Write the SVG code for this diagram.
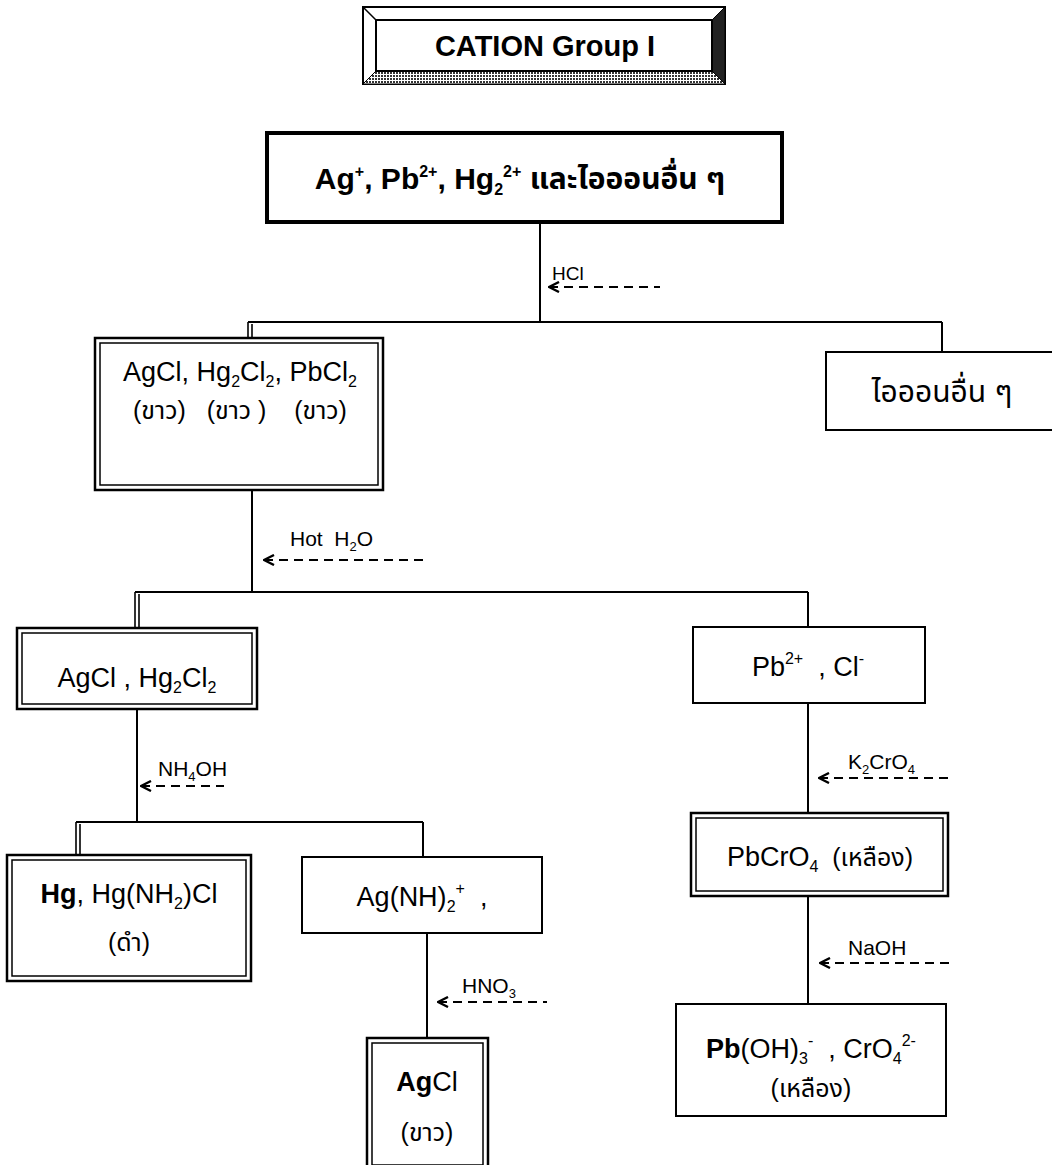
<svg xmlns="http://www.w3.org/2000/svg" width="1052" height="1165" viewBox="0 0 1052 1165">
  <defs>
    <style>
      text { font-family: "Liberation Sans", Arial, "Noto Sans Thai", "Noto Sans", "DejaVu Sans", sans-serif; fill: #000; white-space: pre; }
      .t { font-size: 27px; }
      .th { font-size: 25px; }
      .big { font-size: 30px; font-weight: bold; }
      .lbl { font-size: 21px; }
      .b { font-weight: bold; }
      .s { font-size: 16px; }
      .ls { font-size: 13px; }
      .box { fill: #fff; stroke: #000; stroke-width: 2; }
      .outer { fill: #fff; stroke: #000; stroke-width: 2.5; }
      .inner { fill: none; stroke: #000; stroke-width: 1.5; }
      .ln { stroke: #000; stroke-width: 2; fill: none; }
      .dl { stroke: #000; stroke-width: 1.6; fill: none; }
      .dash { stroke: #000; stroke-width: 2; stroke-dasharray: 9 6; fill: none; }
    </style>
    <marker id="head" viewBox="0 0 12 12" refX="11" refY="6" markerWidth="12" markerHeight="12" markerUnits="userSpaceOnUse" orient="auto-start-reverse">
      <path d="M1,1 L11,6 L1,11" fill="none" stroke="#000" stroke-width="2.4"/>
    </marker>
    <pattern id="dither" width="3" height="3" patternUnits="userSpaceOnUse">
      <rect width="3" height="3" fill="#fff"/>
      <rect width="2" height="2" fill="#333"/>
    </pattern>
  </defs>

  <rect width="1052" height="1165" fill="#fff"/>

  <!-- connectors -->
  <g id="connectors">
    <!-- main split -->
    <line class="ln" x1="540" y1="222" x2="540" y2="322"/>
    <line class="ln" x1="248" y1="322" x2="942" y2="322"/>
    <line class="dl" x1="248" y1="322" x2="248" y2="338"/>
    <line class="dl" x1="252" y1="324" x2="252" y2="338"/>
    <line class="ln" x1="942" y1="322" x2="942" y2="352"/>
    <!-- hot water split -->
    <line class="ln" x1="252" y1="490" x2="252" y2="592"/>
    <line class="ln" x1="135" y1="592" x2="808" y2="592"/>
    <line class="dl" x1="135" y1="592" x2="135" y2="628"/>
    <line class="dl" x1="139" y1="594" x2="139" y2="628"/>
    <line class="ln" x1="808" y1="592" x2="808" y2="627"/>
    <!-- ammonia split -->
    <line class="ln" x1="137" y1="709" x2="137" y2="822"/>
    <line class="ln" x1="76" y1="822" x2="423" y2="822"/>
    <line class="dl" x1="76" y1="822" x2="76" y2="855"/>
    <line class="dl" x1="80" y1="824" x2="80" y2="855"/>
    <line class="ln" x1="423" y1="822" x2="423" y2="857"/>
    <line class="ln" x1="427" y1="933" x2="427" y2="1038"/>
    <!-- lead branch -->
    <line class="ln" x1="808" y1="703" x2="808" y2="813"/>
    <line class="ln" x1="808" y1="896" x2="808" y2="1004"/>

    <!-- reagent arrows -->
    <line class="dash" x1="549" y1="287" x2="660" y2="287" marker-start="url(#head)"/>
    <line class="dash" x1="264" y1="560" x2="428" y2="560" marker-start="url(#head)"/>
    <line class="dash" x1="141" y1="786" x2="224" y2="786" marker-start="url(#head)"/>
    <line class="dash" x1="438" y1="1002" x2="547" y2="1002" marker-start="url(#head)"/>
    <line class="dash" x1="819" y1="778" x2="950" y2="778" marker-start="url(#head)"/>
    <line class="dash" x1="820" y1="963" x2="950" y2="963" marker-start="url(#head)"/>

    <text class="lbl" x="552" y="280" style="font-size:19px">HCl</text>
    <text class="lbl" x="290" y="546">Hot  H<tspan class="ls" dy="5">2</tspan><tspan dy="-5">O</tspan></text>
    <text class="lbl" x="158" y="776">NH<tspan class="ls" dy="5">4</tspan><tspan dy="-5">OH</tspan></text>
    <text class="lbl" x="462" y="993">HNO<tspan class="ls" dy="5">3</tspan></text>
    <text class="lbl" x="848" y="769">K<tspan class="ls" dy="5">2</tspan><tspan dy="-5">CrO</tspan><tspan class="ls" dy="5">4</tspan></text>
    <text class="lbl" x="848" y="955">NaOH</text>
  </g>

  <!-- title plate with bevelled frame -->
  <g id="title">
    <rect x="363" y="7" width="362" height="77" fill="#fff" stroke="#000" stroke-width="2"/>
    <polygon points="363,84 725,84 712,71 376,71" fill="url(#dither)" stroke="#000" stroke-width="1"/>
    <polygon points="725,7 725,84 712,71 712,20" fill="#222" stroke="#000" stroke-width="1"/>
    <line x1="363" y1="7" x2="376" y2="20" stroke="#000" stroke-width="1.5"/>
    <rect x="376" y="20" width="336" height="51" fill="#fff" stroke="#000" stroke-width="2"/>
    <text class="big" x="545" y="56" text-anchor="middle" style="font-size:29px">CATION Group I</text>
  </g>

  <g id="n-start">
    <rect x="267" y="133" width="515" height="89" fill="#fff" stroke="#000" stroke-width="4"/>
    <text class="big" x="520" y="189" text-anchor="middle">Ag<tspan class="s" dy="-12">+</tspan><tspan dy="12">, Pb</tspan><tspan class="s" dy="-12">2+</tspan><tspan dy="12">, Hg</tspan><tspan class="s" dy="6">2</tspan><tspan class="s" dy="-18">2+</tspan><tspan dy="12"> และไอออนอื่น ๆ</tspan></text>
  </g>

  <g id="n-chlorides">
    <rect class="outer" x="95" y="338" width="288" height="152"/>
    <rect class="inner" x="100" y="343" width="278" height="142"/>
    <text class="t" x="240" y="381" text-anchor="middle">AgCl, Hg<tspan class="s" dy="6">2</tspan><tspan dy="-6">Cl</tspan><tspan class="s" dy="6">2</tspan><tspan dy="-6">, PbCl</tspan><tspan class="s" dy="6">2</tspan></text>
    <text class="th" x="240" y="419" text-anchor="middle">(ขาว)   (ขาว )    (ขาว)</text>
  </g>

  <g id="n-other-ions">
    <rect class="box" x="826" y="352" width="240" height="78"/>
    <text class="t" x="942" y="402" text-anchor="middle" style="font-size:30px">ไอออนอื่น ๆ</text>
  </g>

  <g id="n-agcl-hg2cl2">
    <rect class="outer" x="17" y="628" width="240" height="81"/>
    <rect class="inner" x="22" y="633" width="230" height="71"/>
    <text class="t" x="137" y="687" text-anchor="middle">AgCl , Hg<tspan class="s" dy="6">2</tspan><tspan dy="-6">Cl</tspan><tspan class="s" dy="6">2</tspan></text>
  </g>

  <g id="n-pb-cl">
    <rect class="box" x="693" y="627" width="232" height="76"/>
    <text class="t" x="808" y="676" text-anchor="middle">Pb<tspan class="s" dy="-12">2+</tspan><tspan dy="12">  , Cl</tspan><tspan class="s" dy="-12">-</tspan></text>
  </g>

  <g id="n-hg">
    <rect class="outer" x="7" y="855" width="244" height="126"/>
    <rect class="inner" x="12" y="860" width="234" height="116"/>
    <text class="t" x="129" y="903" text-anchor="middle"><tspan class="b">Hg</tspan>, Hg(NH<tspan class="s" dy="6">2</tspan><tspan dy="-6">)Cl</tspan></text>
    <text class="th" x="129" y="951" text-anchor="middle">(ดำ)</text>
  </g>

  <g id="n-ag-ammine">
    <rect class="box" x="302" y="857" width="240" height="76"/>
    <text class="t" x="422" y="906" text-anchor="middle">Ag(NH)<tspan class="s" dy="6">2</tspan><tspan class="s" dy="-18">+</tspan><tspan dy="12">  ,</tspan></text>
  </g>

  <g id="n-agcl">
    <rect class="outer" x="367" y="1038" width="121" height="132"/>
    <rect class="inner" x="372" y="1043" width="111" height="122"/>
    <text class="t" x="427" y="1091" text-anchor="middle"><tspan class="b">Ag</tspan>Cl</text>
    <text class="th" x="427" y="1141" text-anchor="middle">(ขาว)</text>
  </g>

  <g id="n-pbcro4">
    <rect class="outer" x="691" y="813" width="257" height="83"/>
    <rect class="inner" x="696" y="818" width="247" height="73"/>
    <text class="t" x="820" y="866" text-anchor="middle">PbCrO<tspan class="s" dy="6">4</tspan><tspan class="th" dy="-6">  (เหลือง)</tspan></text>
  </g>

  <g id="n-plumbite">
    <rect class="box" x="676" y="1004" width="270" height="112"/>
    <text class="t" x="811" y="1058" text-anchor="middle"><tspan class="b">Pb</tspan>(OH)<tspan class="s" dy="6">3</tspan><tspan class="s" dy="-18">-</tspan><tspan dy="12">  , CrO</tspan><tspan class="s" dy="6">4</tspan><tspan class="s" dy="-18">2-</tspan></text>
    <text class="th" x="811" y="1097" text-anchor="middle">(เหลือง)</text>
  </g>
</svg>
